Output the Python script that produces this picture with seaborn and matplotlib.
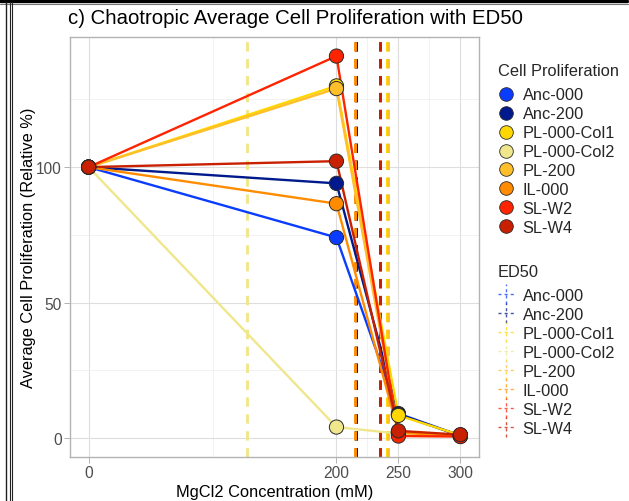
import numpy as np
import pandas as pd
import matplotlib
matplotlib.use("Agg")
import matplotlib.pyplot as plt
import seaborn as sns
from matplotlib.lines import Line2D
from matplotlib.legend_handler import HandlerBase

# ---------------- data ----------------
strains = ["Anc-000", "Anc-200", "PL-000-Col1", "PL-000-Col2",
           "PL-200", "IL-000", "SL-W2", "SL-W4"]
concentrations = [0, 200, 250, 300]

anc_000 = [100, 74.0, 9.0, 0.8]
anc_200 = [100, 94.0, 8.7, 0.8]
pl_000_col1 = [100, 130.0, 8.3, 1.0]
pl_000_col2 = [100, 4.0, 1.6, 0.8]
pl_200 = [100, 129.0, 2.2, 1.0]
il_000 = [100, 86.5, 2.0, 0.6]
sl_w2 = [100, 141.0, 0.7, 0.5]
sl_w4 = [100, 102.2, 2.6, 1.2]

ed50_values = [215.4, 215.7, 241.0, 128.2, 241.2, 214.9, 235.3, 235.5]

palette = ["#0A3CFF", "#00198C", "#FFD700", "#F0E68C",
           "#FFBF2A", "#FF8C00", "#FF2400", "#C82000"]

series = [anc_000, anc_200, pl_000_col1, pl_000_col2, pl_200, il_000, sl_w2, sl_w4]
rows = []
for s, vals in zip(strains, series):
    for c, v in zip(concentrations, vals):
        rows.append({"strain": s, "conc": c, "prolif": v})
df = pd.DataFrame(rows)
color_map = dict(zip(strains, palette))

# ---------------- figure ----------------
sns.set_theme(style="white")
plt.rcParams["font.family"] = ["Liberation Sans", "DejaVu Sans"]

W, H = 629, 502
fig = plt.figure(figsize=(W / 100, H / 100), dpi=100)
ax = fig.add_axes([70 / W, 1 - 458 / H, (479 - 70) / W, (458 - 38) / H])

# grid
for v in [0, 200, 250, 300]:
    ax.axvline(v, color="#DEDEDE", lw=0.8, zorder=0)
for v in [100, 225, 275]:
    ax.axvline(v, color="#EDEDED", lw=0.5, zorder=0)
for v in [0, 50, 100]:
    ax.axhline(v, color="#DEDEDE", lw=0.8, zorder=0)
for v in [25, 75, 125]:
    ax.axhline(v, color="#EDEDED", lw=0.5, zorder=0)

# ED50 lines
for s, e in zip(strains, ed50_values):
    ax.axvline(e, color=color_map[s], lw=2.1, ls=(0, (3.2, 2.6)), zorder=1)

sns.lineplot(data=df, x="conc", y="prolif", hue="strain", hue_order=strains,
             palette=palette, lw=1.7, legend=False, ax=ax, zorder=2,
             estimator=None, sort=True)
sns.scatterplot(data=df, x="conc", y="prolif", hue="strain", hue_order=strains,
                palette=palette, s=105, edgecolor="#2a2a2a", linewidth=0.7,
                legend=False, ax=ax, zorder=3)

ax.set_xlim(-15, 315)
ax.set_ylim(-7.05, 148.05)
ax.set_xticks([0, 200, 250, 300])
ax.set_yticks([0, 50, 100])
ax.tick_params(axis="both", labelsize=11.2, labelcolor="#4D4D4D", color="#B3B3B3",
               length=4, width=0.7, pad=2, bottom=True, left=True)
for sp in ax.spines.values():
    sp.set_color("#B3B3B3")
    sp.set_linewidth(1.0)
ax.set_xlabel("MgCl2 Concentration (mM)", fontsize=11.8, color="black", labelpad=3)
ax.set_ylabel("Average Cell Proliferation (Relative %)", fontsize=11.8, color="black")
ax.yaxis.set_label_coords((36 - 70) / 409, 0.5)
ax.grid(False)

fig.text(68 / W, 1 - 19 / H, "c) Chaotropic Average Cell Proliferation with ED50",
         fontsize=14.7, ha="left", va="center", color="black")

# ---------------- legends ----------------
class CrossHandler(HandlerBase):
    def create_artists(self, legend, orig_handle, xdescent, ydescent,
                       width, height, fontsize, trans):
        c = orig_handle.get_color()
        cx = width / 2 - xdescent
        cy = height / 2 - ydescent
        h = Line2D([-xdescent, width - xdescent], [cy, cy], color=c, lw=1.0,
                   ls=(0, (2.2, 2.2)), alpha=0.75, transform=trans)
        v = Line2D([cx, cx], [-ydescent - 3, height - ydescent + 3], color=c, lw=1.0,
                   ls=(0, (2.2, 2.2)), alpha=0.75, transform=trans)
        return [h, v]

common = dict(loc="upper left", frameon=False, fontsize=11.8, title_fontsize=11.8,
              handlelength=1.0, handletextpad=0.5, labelspacing=0.24, borderpad=0,
              borderaxespad=0, alignment="left")

pt_handles = [Line2D([], [], marker="o", ls="", markersize=9.8, markerfacecolor=color_map[s],
                     markeredgecolor="#2a2a2a", markeredgewidth=0.6) for s in strains]
leg1 = fig.legend(pt_handles, strains, title="Cell Proliferation",
                  bbox_to_anchor=(498 / W, 1 - 64 / H), **common)
leg1._legend_box.sep = 6.8

ln_handles = [Line2D([], [], color=color_map[s]) for s in strains]
leg2 = fig.legend(ln_handles, strains, title="ED50",
                  bbox_to_anchor=(498 / W, 1 - 265 / H),
                  handler_map={Line2D: CrossHandler()}, **common)
leg2._legend_box.sep = 6.5

# ---------------- screenshot frame ----------------
def fline(xs, ys, **kw):
    fig.add_artist(Line2D([x / W for x in xs], [1 - y / H for y in ys],
                          transform=fig.transFigure, **kw))

fline([0, 627], [1.5, 1.5], color="black", lw=2.4)
fline([0, 629], [4.5, 4.5], color="#777777", lw=0.8)
fline([627, 627], [0, 3], color="black", lw=1.0)
fline([6, 6], [3, 502], color="#222222", lw=1.0)
fline([10, 10], [3, 502], color="#222222", lw=0.8)
fline([12, 12], [3, 502], color="#222222", lw=0.8)

fig.savefig("out.png", dpi=100)
